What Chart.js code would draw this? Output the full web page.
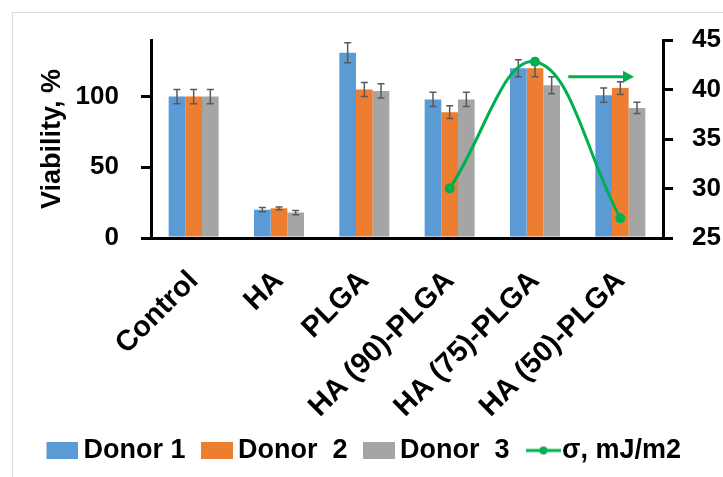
<!DOCTYPE html>
<html>
<head>
<meta charset="utf-8">
<script src="https://cdn.jsdelivr.net/npm/chart.js@4.4.1/dist/chart.umd.min.js"></script>
<style>
html, body { margin: 0; padding: 0; background: #fff; }
#wrap { position: relative; width: 723px; height: 477px; }
#frame { position: absolute; left: 12px; top: 12px; right: 0; bottom: 0; border-left: 1px solid #dcdcdc; border-top: 1px solid #dcdcdc; }
canvas { position: absolute; left: 0; top: 0; }
</style>
</head>
<body>
<div id="wrap"><div id="frame"></div><canvas id="chart" width="723" height="477"></canvas></div>
<script>
// values
const categories = ['Control', 'HA', 'PLGA', 'HA (90)-PLGA', 'HA (75)-PLGA', 'HA (50)-PLGA'];
const donor1 = [100, 20, 131, 98, 120, 101];
const donor2 = [100, 21, 105, 89, 120, 106];
const donor3 = [100, 18, 104, 98, 108, 92];
const err1 = [5, 1.5, 7, 5, 6, 5];
const err2 = [5, 1, 5, 4.5, 6, 4.5];
const err3 = [5, 1.5, 5, 5, 6, 4];
const sigma = [null, null, null, 30, 42.8, 27];
const leftTicks = [0, 50, 100];
const rightTicks = [25, 30, 35, 40, 45];
// arrow note, in category index / right axis units
const arrowX = [4.39, 5.16];
const arrowY = 41.3;

const BLUE = '#5B9BD5', ORANGE = '#ED7D31', GRAY = '#A5A5A5', GREEN = '#00B050';
const FONT = "'Liberation Sans Narrow', 'Arial Narrow', 'Liberation Sans', Arial, sans-serif";
Chart.defaults.font.family = FONT;
Chart.defaults.font.weight = 'bold';
Chart.defaults.color = '#000';

const LEG_SIZE = 27, LEG_BOX = 28;

// legend icons: visible part sits at the right end so it hugs the text
function boxIcon(color) {
  const c = document.createElement('canvas');
  c.width = LEG_BOX + LEG_SIZE - 10; c.height = 17;
  const g = c.getContext('2d');
  g.fillStyle = color;
  g.fillRect(c.width - 32, 0, 32, 17);
  return c;
}
function lineIcon(color) {
  const c = document.createElement('canvas');
  c.width = LEG_BOX + LEG_SIZE - 2; c.height = 10;
  const g = c.getContext('2d');
  const x0 = c.width - 35;
  g.strokeStyle = color; g.lineWidth = 3;
  g.beginPath(); g.moveTo(x0, 5); g.lineTo(c.width, 5); g.stroke();
  g.fillStyle = color;
  g.beginPath(); g.arc(x0 + 17.5, 5, 4, 0, Math.PI * 2); g.fill();
  return c;
}
const icons = [boxIcon(BLUE), boxIcon(ORANGE), boxIcon(GRAY), lineIcon(GREEN)];
const errs = [err1, err2, err3];

const errorBars = {
  id: 'errorBars',
  afterDatasetDraw(chart, args) {
    const e = errs[args.index];
    if (!e) return;
    const ys = chart.scales.y;
    const ctx = chart.ctx;
    ctx.save();
    ctx.strokeStyle = '#595959';
    ctx.lineWidth = 1.5;
    args.meta.data.forEach((bar, j) => {
      const v = chart.data.datasets[args.index].data[j];
      const top = ys.getPixelForValue(v + e[j]);
      const bot = ys.getPixelForValue(v - e[j]);
      ctx.beginPath();
      ctx.moveTo(bar.x, top); ctx.lineTo(bar.x, bot);
      ctx.moveTo(bar.x - 3.5, top); ctx.lineTo(bar.x + 3.5, top);
      ctx.moveTo(bar.x - 3.5, bot); ctx.lineTo(bar.x + 3.5, bot);
      ctx.stroke();
    });
    ctx.restore();
  }
};

const arrowNote = {
  id: 'arrowNote',
  afterDatasetsDraw(chart) {
    const xs = chart.scales.x, ys = chart.scales.y2, ctx = chart.ctx;
    const x0 = xs.getPixelForValue(arrowX[0]), x1 = xs.getPixelForValue(arrowX[1]);
    const y = ys.getPixelForValue(arrowY);
    ctx.save();
    ctx.strokeStyle = GREEN; ctx.fillStyle = GREEN; ctx.lineWidth = 3;
    ctx.beginPath(); ctx.moveTo(x0, y); ctx.lineTo(x1 - 8, y); ctx.stroke();
    ctx.beginPath(); ctx.moveTo(x1, y); ctx.lineTo(x1 - 11, y - 6); ctx.lineTo(x1 - 11, y + 6); ctx.closePath(); ctx.fill();
    ctx.restore();
  }
};

const yGrid = { display: true, drawOnChartArea: false, drawTicks: true, tickLength: 10, color: '#000', lineWidth: 3 };

new Chart(document.getElementById('chart'), {
  data: {
    labels: categories,
    datasets: [
      { type: 'bar', label: 'Donor 1', data: donor1, backgroundColor: BLUE, yAxisID: 'y', order: 1 },
      { type: 'bar', label: 'Donor  2', data: donor2, backgroundColor: ORANGE, yAxisID: 'y', order: 1 },
      { type: 'bar', label: 'Donor  3', data: donor3, backgroundColor: GRAY, yAxisID: 'y', order: 1 },
      { type: 'line', label: 'σ, mJ/m2', data: sigma, borderColor: GREEN, backgroundColor: GREEN,
        borderWidth: 3, tension: 0.4, pointRadius: 5, pointBackgroundColor: GREEN, pointBorderWidth: 0,
        yAxisID: 'y2', order: 0 }
    ]
  },
  options: {
    responsive: false,
    animation: false,
    datasets: { bar: { categoryPercentage: 0.586, barPercentage: 1 } },
    layout: { padding: { top: 40, left: 0, right: 0, bottom: 3 } },
    plugins: {
      tooltip: { enabled: false },
      legend: {
        position: 'bottom',
        labels: {
          usePointStyle: true,
          pointStyleWidth: LEG_BOX,
          padding: 11,
          color: '#000',
          font: { size: LEG_SIZE, weight: 'bold' },
          sort: (a, b) => a.datasetIndex - b.datasetIndex,
          generateLabels: chart => Chart.defaults.plugins.legend.labels.generateLabels(chart)
            .map(l => ({ ...l, pointStyle: icons[l.datasetIndex] }))
        }
      }
    },
    scales: {
      x: {
        offset: true,
        grid: { display: false },
        border: { display: true, color: '#000', width: 3 },
        ticks: { color: '#000', font: { size: 29, weight: 'bold' }, minRotation: 45, maxRotation: 45, autoSkip: false, padding: 18 },
        afterFit: s => { s.height = 477 - 238 - s.chart.legend.height - 3; }
      },
      y: {
        position: 'left',
        min: 0, max: 140,
        grid: yGrid,
        border: { display: true, color: '#000', width: 3 },
        ticks: { color: '#000', font: { size: 26, weight: 'bold' }, padding: 22 },
        afterBuildTicks: s => { s.ticks = leftTicks.map(v => ({ value: v })); },
        title: { display: true, text: 'Viability, %', color: '#000', font: { size: 27, weight: 'bold' }, padding: { top: 36, bottom: 0 } },
        afterFit: s => { s.width = 151; }
      },
      y2: {
        position: 'right',
        min: 25, max: 45,
        grid: yGrid,
        border: { display: true, color: '#000', width: 3 },
        ticks: { color: '#000', font: { size: 26, weight: 'bold' }, padding: 19 },
        afterBuildTicks: s => { s.ticks = rightTicks.map(v => ({ value: v })); },
        afterFit: s => { s.width = 60; }
      }
    }
  },
  plugins: [errorBars, arrowNote]
});
</script>
</body>
</html>
